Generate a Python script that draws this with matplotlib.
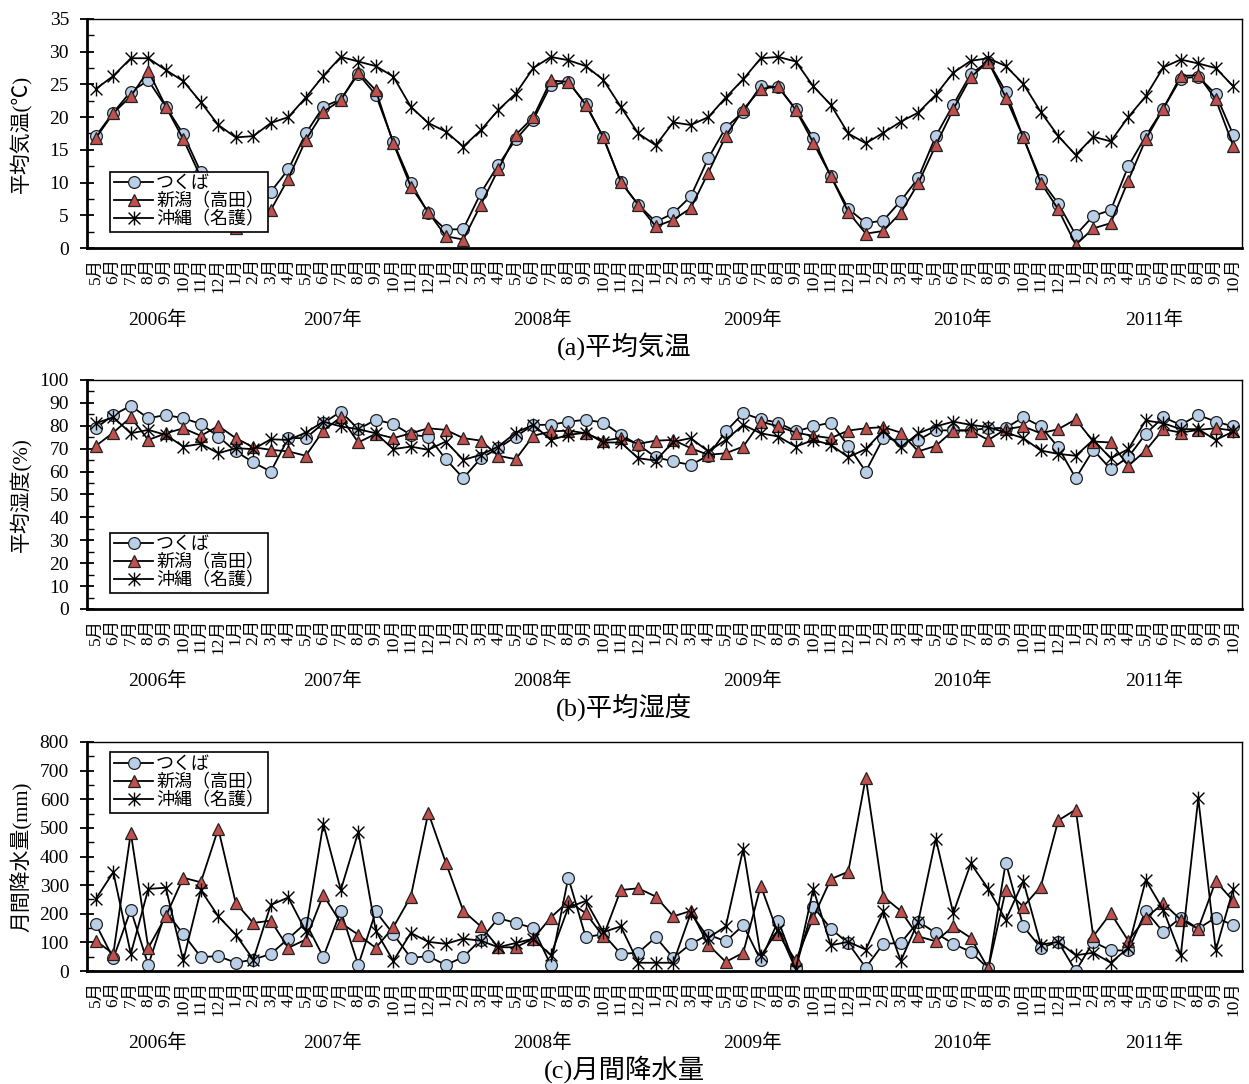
import numpy as np
import matplotlib.pyplot as plt
from matplotlib.path import Path
from matplotlib.transforms import blended_transform_factory

plt.rcParams['font.family'] = ['Liberation Serif', 'Noto Sans CJK JP']

# months May 2006 .. Oct 2011
months = [5, 6, 7, 8, 9, 10, 11, 12] + list(range(1, 13)) * 4 + list(range(1, 11))
years = ['2006年', '2007年', '2008年', '2009年', '2010年', '2011年']
year_counts = [8, 12, 12, 12, 12, 10]

series_names = ['つくば', '新潟（高田）', '沖縄（名護）']

temp_tsukuba = [17.1, 20.7, 23.9, 25.6, 21.6, 17.4, 11.6, 6.6, 4.8, 6.0,
                8.6, 12.0, 17.5, 21.6, 22.7, 26.6, 23.4, 16.2, 10.0, 5.3,
                2.8, 2.9, 8.4, 12.7, 16.6, 19.6, 24.9, 25.4, 22.0, 16.9,
                10.1, 6.6, 4.0, 5.3, 7.9, 13.7, 18.4, 20.8, 24.8, 24.6,
                21.2, 16.8, 11.0, 6.0, 3.8, 4.2, 7.2, 10.7, 17.1, 21.9,
                26.6, 28.5, 23.9, 16.9, 10.4, 6.8, 2.0, 4.9, 5.8, 12.5,
                17.1, 21.3, 25.9, 26.2, 23.5, 17.3]
temp_niigata = [16.8, 20.6, 23.2, 27.1, 21.6, 16.6, 10.8, 5.5, 3.0, 3.6,
                5.8, 10.6, 16.5, 20.8, 22.6, 26.9, 24.1, 16.0, 9.4, 5.5,
                1.8, 1.3, 6.6, 12.0, 17.3, 20.0, 25.6, 25.4, 21.9, 16.9,
                10.1, 6.6, 3.3, 4.3, 6.1, 11.5, 17.1, 21.2, 24.3, 24.7,
                21.1, 16.1, 11.0, 5.5, 2.2, 2.6, 5.4, 9.9, 15.7, 21.2,
                26.1, 28.5, 23.0, 16.9, 10.0, 5.9, 0.5, 3.0, 3.8, 10.3,
                16.6, 21.3, 26.3, 26.4, 22.7, 15.6]
temp_okinawa = [24.3, 26.3, 29.0, 29.0, 27.2, 25.5, 22.3, 18.8, 16.9, 17.1,
                19.1, 20.0, 23.0, 26.3, 29.2, 28.5, 27.8, 26.2, 21.6, 19.1,
                17.8, 15.5, 18.0, 21.1, 23.6, 27.5, 29.2, 28.7, 27.8, 25.7,
                21.6, 17.5, 15.7, 19.2, 18.8, 20.0, 23.0, 25.8, 29.0, 29.2,
                28.5, 24.7, 21.9, 17.5, 16.0, 17.6, 19.3, 20.7, 23.4, 26.8,
                28.6, 29.0, 27.8, 25.1, 20.8, 17.1, 14.2, 17.0, 16.3, 20.0,
                23.2, 27.6, 28.8, 28.2, 27.5, 24.7]

hum_tsukuba = [78.9, 84.7, 88.7, 83.3, 84.7, 83.3, 80.8, 75.3, 68.8, 64.0,
               60.0, 74.6, 74.6, 81.1, 86.2, 78.5, 82.6, 80.8, 76.0, 75.3,
               65.4, 57.1, 65.8, 70.2, 75.3, 80.4, 80.4, 81.8, 82.6, 81.4,
               76.0, 71.7, 66.3, 64.4, 62.9, 67.0, 77.5, 85.5, 82.8, 81.4,
               77.5, 79.7, 81.4, 71.2, 60.0, 74.6, 73.5, 73.8, 78.0, 78.0,
               78.0, 79.0, 79.0, 83.7, 79.7, 70.6, 57.1, 69.5, 61.0, 66.3,
               76.5, 83.7, 80.4, 84.7, 81.8, 79.7]
hum_niigata = [71.2, 77.0, 83.7, 73.8, 76.7, 78.9, 75.6, 79.9, 74.6, 70.6,
               69.5, 68.8, 66.9, 77.9, 83.7, 72.7, 76.5, 74.6, 76.7, 78.9,
               78.2, 74.6, 73.5, 66.9, 65.4, 75.6, 77.5, 77.9, 76.7, 73.5,
               74.6, 72.1, 73.5, 73.8, 70.2, 67.3, 68.0, 70.9, 81.8, 79.7,
               77.0, 75.6, 74.6, 77.9, 78.9, 79.4, 77.0, 68.8, 71.2, 77.9,
               77.9, 73.8, 78.5, 79.7, 76.7, 78.5, 82.8, 73.1, 72.7, 62.5,
               69.2, 78.5, 77.0, 78.2, 78.9, 77.9]
hum_okinawa = [81.1, 83.7, 76.7, 78.2, 76.0, 70.9, 72.1, 68.0, 70.2, 69.8,
               74.1, 73.8, 77.0, 81.8, 79.7, 78.5, 76.7, 69.8, 70.9, 69.5,
               73.1, 65.1, 67.3, 70.9, 77.0, 80.4, 73.8, 76.0, 77.0, 72.7,
               72.7, 65.8, 64.8, 73.0, 74.6, 68.8, 73.8, 80.4, 76.7, 75.3,
               70.9, 73.8, 71.7, 66.3, 69.8, 77.9, 70.6, 76.7, 79.7, 81.8,
               80.4, 79.4, 77.0, 74.6, 69.2, 67.7, 66.9, 73.8, 65.8, 69.8,
               82.3, 81.1, 78.5, 78.5, 73.8, 77.5]

rain_tsukuba = [164, 44, 214, 21, 208, 129, 49, 52, 29, 40,
                60, 113, 168, 49, 210, 21, 208, 129, 46, 52,
                21, 49, 110, 185, 168, 150, 21, 326, 118, 129,
                60, 64, 118, 46, 95, 127, 104, 160, 37, 176,
                12, 225, 148, 97, 12, 95, 98, 173, 133, 95,
                67, 9, 379, 156, 81, 102, 0, 102, 72, 72,
                210, 136, 187, 148, 187, 160]
rain_niigata = [106, 60, 483, 81, 191, 326, 310, 497, 237, 168,
                176, 81, 110, 266, 168, 127, 81, 153, 260, 553,
                379, 210, 156, 83, 83, 113, 187, 243, 202, 121,
                283, 289, 260, 191, 210, 92, 32, 64, 298, 129,
                37, 187, 321, 347, 676, 260, 210, 121, 104, 156,
                116, 9, 283, 225, 295, 526, 564, 121, 202, 106,
                185, 237, 179, 148, 314, 245]
rain_okinawa = [252, 345, 60, 287, 291, 37, 283, 191, 127, 40,
                231, 257, 139, 514, 283, 486, 141, 35, 133, 102,
                95, 113, 106, 83, 98, 113, 55, 222, 245, 136,
                156, 29, 29, 29, 202, 116, 156, 428, 52, 145,
                6, 287, 90, 102, 75, 208, 35, 173, 462, 202,
                376, 287, 179, 314, 92, 102, 55, 64, 29, 81,
                318, 214, 55, 603, 72, 287]

# asterisk marker: X plus vertical bar
star = Path([(0, -1), (0, 1), (-0.85, -0.85), (0.85, 0.85), (-0.85, 0.85), (0.85, -0.85)],
            [Path.MOVETO, Path.LINETO, Path.MOVETO, Path.LINETO, Path.MOVETO, Path.LINETO])

styles = [
    dict(marker='o', markerfacecolor='#B9CFE8', markeredgecolor='#222222', markersize=8.5, markeredgewidth=0.9),
    dict(marker='^', markerfacecolor='#C0504D', markeredgecolor='#222222', markersize=8.5, markeredgewidth=0.9),
    dict(marker=star, markerfacecolor='none', markeredgecolor='black', markersize=10, markeredgewidth=1.0),
]

panels = [
    dict(data=[temp_tsukuba, temp_niigata, temp_okinawa], ylim=35, major=5, ylabel='平均気温(℃)',
         title='(a)平均気温', rect=[0.0697, 0.7712, 0.9247, 0.2113], legend=('lower left', (0.02, 0.07))),
    dict(data=[hum_tsukuba, hum_niigata, hum_okinawa], ylim=100, major=10, ylabel='平均湿度(%)',
         title='(b)平均湿度', rect=[0.0697, 0.4382, 0.9247, 0.2113], legend=('lower left', (0.02, 0.07))),
    dict(data=[rain_tsukuba, rain_niigata, rain_okinawa], ylim=800, major=100, ylabel='月間降水量(mm)',
         title='(c)月間降水量', rect=[0.0697, 0.1042, 0.9247, 0.2113], legend=('upper left', (0.02, 0.955))),
]

fig = plt.figure(figsize=(12.49, 10.84), dpi=100)
x = np.arange(len(months))
month_labels = [f'{m}月' for m in months]
year_centers = np.cumsum([0] + year_counts[:-1]) + (np.array(year_counts) - 1) / 2

for p in panels:
    ax = fig.add_axes(p['rect'])
    for vals, name, st in zip(p['data'], series_names, styles):
        ax.plot(x, vals, color='black', linewidth=1.3, label=name, **st)
    ax.set_xlim(-0.5, len(months) - 0.5)
    ax.set_ylim(0, p['ylim'])
    ax.set_yticks(np.arange(0, p['ylim'] + 1, p['major']))
    ax.set_yticks(np.arange(p['major'] / 2, p['ylim'], p['major']), minor=True)
    ax.tick_params(axis='y', which='major', direction='inout', length=10, width=1.3, labelsize=14, pad=8)
    ax.tick_params(axis='y', which='minor', direction='in', length=5, width=1.0)
    ax.set_xticks(x)
    ax.set_xticklabels(month_labels, rotation=90, fontsize=12.5, va='top', ha='center')
    ax.tick_params(axis='x', length=0, pad=7)
    for side in ['left', 'bottom']:
        ax.spines[side].set_linewidth(2.0)
    for side in ['top', 'right']:
        ax.spines[side].set_linewidth(1.0)
    ax.set_ylabel(p['ylabel'], fontsize=15)
    ax.yaxis.set_label_coords(-0.047, 0.5)

    trans = blended_transform_factory(ax.transData, ax.transAxes)
    for yc, yl in zip(year_centers, years):
        ax.text(yc, -0.315, yl, transform=trans, ha='center', va='center', fontsize=14)
    ax.text(0.4652, -0.43, p['title'], transform=ax.transAxes, ha='center', va='center', fontsize=19)

    loc, anchor = p['legend']
    leg = ax.legend(loc=loc, bbox_to_anchor=anchor, fontsize=13, frameon=True, fancybox=False,
                    framealpha=1, edgecolor='black', borderaxespad=0, handlelength=2.2,
                    handletextpad=0.15, labelspacing=0.05, borderpad=0.2)
    leg.get_frame().set_linewidth(1.2)

fig.savefig('out.png', dpi=100)
